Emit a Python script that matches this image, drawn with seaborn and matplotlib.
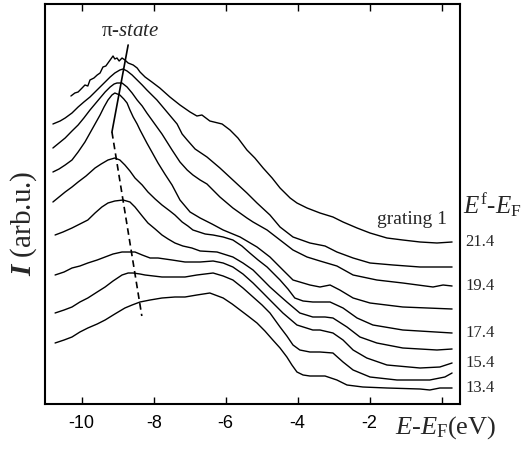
import pandas as pd
import seaborn as sns
import matplotlib.pyplot as plt

# Photon energy of each spectrum (E^f - E_F, eV), top to bottom
final_energies = [21.4, 20.4, 19.4, 18.4, 17.4, 16.4, 15.4, 14.4, 13.4]
labelled = [21.4, 19.4, 17.4, 15.4, 13.4]

# Spectra: E - E_F (eV) and stacked intensity (arb.u.)
e_21_4 = [-10.30, -10.19, -10.10, -9.99, -9.91, -9.83, -9.77, -9.66, -9.57, -9.49, -9.41, -9.33, -9.21, -9.13,
          -9.08, -9.02, -8.96, -8.88, -8.80, -8.71, -8.57, -8.46, -8.38, -8.24, -8.05, -7.83, -7.55, -7.27,
          -6.99, -6.80, -6.66, -6.44, -6.10, -5.88, -5.66, -5.41, -5.19, -4.96, -4.71, -4.49, -4.21, -4.02,
          -3.74, -3.38, -3.02, -2.74, -2.35, -1.99, -1.52, -1.08, -0.60, -0.13, 0.29]
i_21_4 = [30.8, 31.1, 31.2, 31.6, 31.9, 31.8, 32.4, 32.6, 32.9, 33.1, 33.7, 33.8, 34.4, 34.8,
          34.5, 34.6, 34.3, 34.6, 34.4, 34.1, 33.9, 33.6, 33.2, 32.7, 32.2, 31.6, 30.7, 29.9,
          29.2, 28.8, 28.9, 28.3, 28.0, 27.4, 26.6, 25.4, 24.6, 23.6, 22.6, 21.6, 20.6, 20.1,
          19.6, 19.1, 18.7, 18.2, 17.6, 17.1, 16.6, 16.4, 16.2, 16.1, 16.2]

e_20_4 = [-10.80, -10.60, -10.46, -10.27, -10.10, -9.94, -9.77, -9.63, -9.49, -9.35, -9.21, -9.08, -8.94, -8.85,
          -8.74, -8.60, -8.46, -8.32, -8.19, -8.05, -7.91, -7.77, -7.63, -7.49, -7.35, -7.21, -7.07, -6.85,
          -6.52, -6.16, -5.80, -5.41, -5.13, -4.77, -4.49, -4.13, -3.66, -3.24, -2.91, -2.46, -1.99, -1.35,
          -0.60, 0.29]
i_20_4 = [28.0, 28.3, 28.6, 29.1, 29.7, 30.2, 30.7, 31.2, 31.7, 32.2, 32.7, 33.1, 33.4, 33.5,
          33.3, 32.9, 32.4, 31.9, 31.4, 30.9, 30.4, 29.8, 29.2, 28.6, 28.0, 27.0, 26.4, 25.5,
          24.7, 23.6, 22.4, 21.1, 20.1, 18.9, 17.7, 16.7, 16.1, 15.8, 15.2, 14.6, 14.1, 13.9,
          13.7, 13.7]

e_19_4 = [-10.80, -10.63, -10.46, -10.27, -10.10, -9.94, -9.77, -9.63, -9.49, -9.35, -9.21, -9.10, -9.02, -8.88,
          -8.74, -8.60, -8.46, -8.32, -8.19, -8.05, -7.91, -7.77, -7.63, -7.49, -7.27, -7.07, -6.91, -6.71,
          -6.52, -6.16, -5.80, -5.41, -5.24, -4.85, -4.49, -4.13, -3.74, -3.38, -2.91, -2.46, -1.80, -1.08,
          -0.24, 0.04, 0.29]
i_19_4 = [25.6, 26.1, 26.6, 27.3, 27.9, 28.6, 29.4, 30.0, 30.6, 31.2, 31.7, 32.0, 32.1, 32.1,
          31.7, 31.1, 30.4, 29.8, 29.1, 28.4, 27.7, 27.0, 26.2, 25.4, 24.2, 23.4, 22.9, 22.4,
          22.0, 20.7, 19.6, 18.6, 18.2, 17.4, 16.4, 15.4, 14.7, 14.3, 13.8, 12.9, 12.4, 12.1,
          11.7, 11.9, 11.8]

e_18_4 = [-10.80, -10.63, -10.46, -10.27, -10.10, -9.91, -9.77, -9.63, -9.49, -9.38, -9.27, -9.16, -9.08, -8.94,
          -8.83, -8.74, -8.66, -8.57, -8.46, -8.38, -8.19, -8.05, -7.88, -7.69, -7.49, -7.27, -6.99, -6.71,
          -6.38, -6.07, -5.60, -5.13, -4.77, -4.41, -4.13, -3.66, -3.38, -3.10, -2.83, -2.46, -1.99, -1.08,
          0.29]
i_18_4 = [23.2, 23.5, 23.9, 24.4, 25.2, 26.2, 27.1, 28.0, 28.9, 29.7, 30.4, 30.9, 31.1, 30.9,
          30.5, 30.1, 29.4, 28.7, 28.0, 27.4, 26.1, 25.2, 24.1, 23.0, 21.9, 20.4, 19.2, 18.6,
          18.0, 17.4, 16.7, 15.7, 14.7, 13.4, 12.4, 11.9, 11.7, 11.9, 11.4, 10.6, 10.1, 9.7,
          9.5]

e_17_4 = [-10.80, -10.63, -10.46, -10.27, -10.10, -9.88, -9.63, -9.46, -9.27, -9.08, -8.94, -8.80, -8.66, -8.52,
          -8.32, -8.16, -7.96, -7.77, -7.55, -7.41, -7.21, -7.05, -6.91, -6.57, -6.35, -6.07, -5.80, -5.55,
          -5.33, -5.10, -4.85, -4.49, -4.27, -4.08, -3.85, -3.58, -3.10, -2.74, -2.35, -1.91, -1.08, 0.29]
i_17_4 = [20.2, 20.7, 21.2, 21.7, 22.2, 22.8, 23.6, 24.0, 24.4, 24.6, 24.4, 23.9, 23.3, 22.6,
          21.9, 21.2, 20.5, 19.9, 19.3, 18.9, 18.2, 17.8, 17.4, 17.0, 16.9, 16.7, 16.4, 15.8,
          15.1, 14.4, 13.7, 12.4, 11.5, 10.6, 10.3, 10.2, 10.2, 9.6, 8.6, 7.9, 7.4, 7.1]

e_16_4 = [-10.74, -10.52, -10.27, -10.05, -9.83, -9.63, -9.44, -9.27, -9.08, -8.85, -8.66, -8.52, -8.32, -8.16,
          -7.96, -7.77, -7.60, -7.41, -7.19, -6.94, -6.71, -6.24, -5.80, -5.52, -5.24, -4.99, -4.77, -4.49,
          -4.30, -3.94, -3.58, -3.24, -3.02, -2.63, -2.27, -1.80, -1.08, -0.13, 0.29]
i_16_4 = [16.9, 17.2, 17.6, 18.0, 18.4, 19.1, 19.7, 20.1, 20.3, 20.4, 20.2, 19.7, 18.8, 18.1,
          17.5, 16.9, 16.5, 16.1, 15.8, 15.6, 15.3, 15.2, 14.7, 14.1, 13.4, 12.5, 11.7, 10.8,
          10.2, 9.1, 8.7, 8.7, 8.6, 7.7, 6.7, 6.1, 5.6, 5.4, 5.5]

e_15_4 = [-10.74, -10.49, -10.27, -10.05, -9.83, -9.57, -9.35, -9.13, -8.88, -8.71, -8.52, -8.32, -8.10, -7.88,
          -7.49, -7.13, -6.71, -6.35, -6.07, -5.80, -5.52, -5.24, -4.99, -4.77, -4.41, -4.02, -3.58, -3.38,
          -3.02, -2.74, -2.46, -2.08, -1.52, -0.60, -0.05, 0.29]
i_15_4 = [12.9, 13.2, 13.6, 13.8, 14.1, 14.4, 14.7, 15.0, 15.2, 15.2, 15.2, 14.9, 14.6, 14.6,
          14.4, 14.2, 14.2, 14.3, 14.1, 13.7, 13.0, 12.1, 11.2, 10.4, 9.1, 7.9, 7.4, 7.4,
          7.1, 6.4, 5.4, 4.6, 3.9, 3.6, 3.7, 4.1]

e_14_4 = [-10.74, -10.49, -10.27, -10.05, -9.83, -9.57, -9.35, -9.13, -8.88, -8.71, -8.57, -8.38, -8.24, -7.77,
          -7.13, -6.80, -6.35, -6.07, -5.80, -5.52, -5.24, -4.99, -4.77, -4.49, -4.30, -4.13, -3.94, -3.66,
          -3.38, -3.02, -2.74, -2.46, -1.99, -1.24, -0.33, 0.09, 0.29]
i_14_4 = [9.1, 9.4, 9.7, 10.2, 10.6, 11.2, 11.7, 12.3, 12.9, 13.1, 13.1, 13.0, 12.9, 12.7,
          12.7, 12.9, 13.1, 12.8, 12.4, 11.6, 10.7, 9.9, 9.1, 7.7, 6.8, 5.9, 5.4, 5.2,
          5.2, 5.1, 4.2, 3.4, 2.7, 2.4, 2.4, 2.7, 3.1]

e_13_4 = [-10.74, -10.49, -10.27, -10.05, -9.83, -9.57, -9.35, -9.08, -8.80, -8.60, -8.38, -8.10, -7.77, -7.41,
          -7.13, -6.80, -6.44, -6.07, -5.82, -5.60, -5.38, -5.13, -4.91, -4.69, -4.49, -4.30, -4.16, -4.02,
          -3.85, -3.66, -3.24, -2.91, -2.63, -2.19, -1.52, -0.60, -0.33, -0.05, 0.29]
i_13_4 = [6.1, 6.4, 6.7, 7.2, 7.6, 8.0, 8.4, 9.0, 9.6, 9.9, 10.2, 10.4, 10.6, 10.7,
          10.7, 10.9, 11.1, 10.6, 10.0, 9.4, 8.8, 8.1, 7.3, 6.4, 5.6, 4.7, 3.9, 3.2,
          2.9, 2.8, 2.8, 2.4, 1.9, 1.7, 1.6, 1.5, 1.4, 1.6, 1.6]

# pi-state peak guide: solid part (two upper-left points) then dashed part
pi_solid_e = [-8.71, -9.16]
pi_solid_i = [35.9, 27.2]
pi_dash_e = [-9.16, -8.33]
pi_dash_i = [27.2, 8.8]

energies = [e_21_4, e_20_4, e_19_4, e_18_4, e_17_4, e_16_4, e_15_4, e_14_4, e_13_4]
intensities = [i_21_4, i_20_4, i_19_4, i_18_4, i_17_4, i_16_4, i_15_4, i_14_4, i_13_4]

frames = []
for ef, e, i in zip(final_energies, energies, intensities):
    frames.append(pd.DataFrame({'E': e, 'I': i, 'Ef': ef}))
df = pd.concat(frames, ignore_index=True)

sns.set_theme(style='ticks')
plt.rcParams['font.family'] = ['Liberation Serif', 'DejaVu Serif']
plt.rcParams['mathtext.fontset'] = 'custom'
plt.rcParams['mathtext.rm'] = 'Liberation Serif'
plt.rcParams['mathtext.it'] = 'Liberation Serif:italic'
plt.rcParams['mathtext.bf'] = 'Liberation Serif:italic:bold'
plt.rcParams['axes.unicode_minus'] = False

fig = plt.figure(figsize=(5.24, 4.49), dpi=100)
ax = fig.add_axes([45 / 524, 1 - 404 / 449, 415 / 524, 400 / 449])

sns.lineplot(data=df, x='E', y='I', units='Ef', estimator=None, sort=False,
             color='black', linewidth=1.0, legend=False, ax=ax)
ax.plot(pi_solid_e, pi_solid_i, color='black', linewidth=1.2)
ax.plot(pi_dash_e, pi_dash_i, color='black', linewidth=1.2, linestyle=(0, (4, 2.5)))

ax.set_xlim(-11.02, 0.51)
ax.set_ylim(0, 40)
ax.set_xticks([-10, -8, -6, -4, -2, 0])
ax.set_xticklabels(['-10', '-8', '-6', '-4', '-2', ''])
ax.set_yticks([])
ax.set_xlabel('')
ax.set_ylabel('')
ax.tick_params(axis='x', direction='in', top=True, length=5, width=1, pad=8,
               labelsize=13, colors='black')
for lab in ax.get_xticklabels():
    lab.set_family('Liberation Sans')
for sp in ax.spines.values():
    sp.set_linewidth(1.5)
    sp.set_color('black')

ax.text(-8.66, 37.2, r'π-$\mathit{state}$', fontsize=15, ha='center', va='center')
ax.text(0.15, 18.5, 'grating 1', fontsize=14, ha='right', va='center')

# energy labels beside the right ends of every other spectrum
for ef, e, i in zip(final_energies, energies, intensities):
    if ef in labelled:
        ax.text(0.65, i[-1], f'{ef}', fontsize=12, ha='left', va='center', clip_on=False)
ax.text(0.58, 19.9, r'$E^{\rm f}$-$E_{\rm F}$', fontsize=18, ha='left', va='center', clip_on=False)

fig.text(395 / 524, 1 - 428 / 449, r'$E$-$E_{\rm F}$(eV)', fontsize=19, ha='left', va='center')
fig.text(24 / 524, 1 - 223 / 449, r'$\mathbf{I}$ (arb.u.)', fontsize=21, ha='center', va='center', rotation=90)

fig.savefig('out.png', dpi=100)
